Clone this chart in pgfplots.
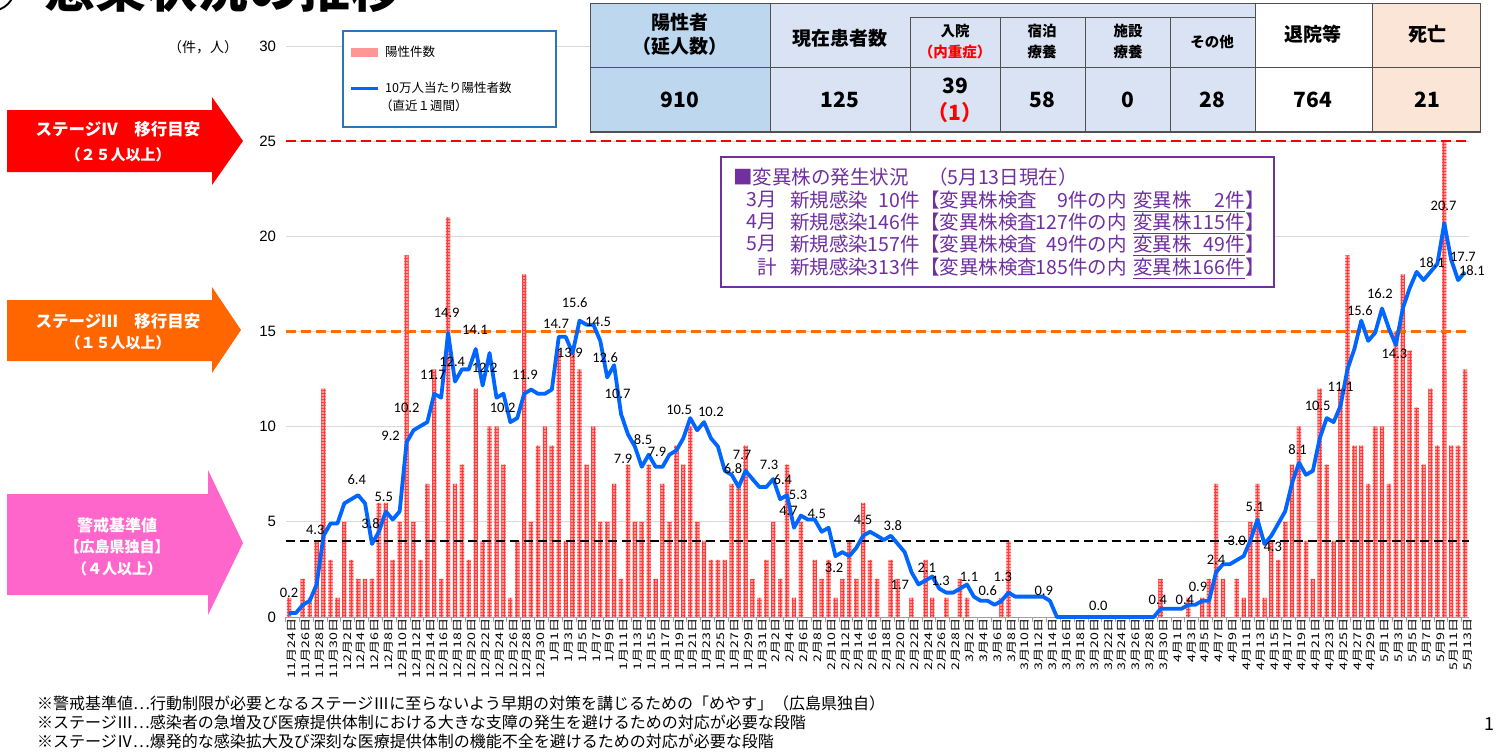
\documentclass[border=0pt]{standalone}
\usepackage{pgfplots}
\pgfplotsset{compat=1.18}
\usepackage{pgfplotstable}
\usepackage{fontspec}
\usetikzlibrary{patterns}
\setmainfont{Noto Sans CJK JP}
\newfontfamily\labf{Carlito}
\newfontfamily\numf{Liberation Sans}
\newfontfamily\xtf[FakeStretch=1.35]{Noto Sans CJK JP}
\newcommand\fs[1]{\fontsize{#1}{#1}\selectfont}
\definecolor{barfill}{RGB}{255,150,150}
\definecolor{barline}{RGB}{255,60,60}
\definecolor{lineblue}{RGB}{0,102,255}
\definecolor{dorange}{RGB}{255,110,0}
\definecolor{gridgray}{RGB}{217,217,217}
\definecolor{axgray}{RGB}{160,160,160}
\definecolor{legblue}{RGB}{46,117,182}
\definecolor{arrred}{RGB}{255,0,0}
\definecolor{arrorange}{RGB}{255,102,0}
\definecolor{arrpink}{RGB}{255,102,204}
\definecolor{vpurple}{RGB}{112,48,160}
\definecolor{tblue}{RGB}{189,215,238}
\definecolor{tlblue}{RGB}{218,227,243}
\definecolor{tpeach}{RGB}{251,229,214}
\definecolor{tborder}{RGB}{80,80,80}

\pgfplotstableread{
d c r
0 1 0.21
1 0 0.21
2 2 0.64
3 1 0.85
4 4 1.71
5 12 4.27
6 3 4.91
7 1 4.91
8 5 5.97
9 3 6.19
10 2 6.40
11 2 5.97
12 2 3.84
13 6 4.48
14 6 5.55
15 3 5.12
16 5 5.55
17 19 9.17
18 5 9.81
19 3 10.03
20 7 10.24
21 13 11.73
22 2 11.52
23 21 14.93
24 7 12.37
25 8 13.01
26 3 13.01
27 12 14.08
28 4 12.16
29 10 13.87
30 10 11.52
31 8 11.73
32 1 10.24
33 4 10.45
34 18 11.73
35 5 11.95
36 9 11.73
37 10 11.73
38 9 11.95
39 14 14.72
40 4 14.72
41 14 13.87
42 13 15.57
43 8 15.36
44 10 15.36
45 5 14.51
46 5 12.59
47 7 13.23
48 2 10.67
49 8 9.60
50 5 8.96
51 5 7.89
52 8 8.53
53 2 7.89
54 7 7.89
55 5 8.53
56 9 8.75
57 8 9.39
58 10 10.45
59 5 9.81
60 4 10.24
61 3 9.39
62 3 8.96
63 3 7.68
64 7 7.47
65 7 6.83
66 9 7.68
67 2 7.25
68 1 6.83
69 3 6.83
70 5 7.25
71 2 6.19
72 8 6.40
73 1 4.69
74 5 5.33
75 0 5.12
76 3 5.12
77 2 4.48
78 3 4.69
79 1 3.20
80 2 3.41
81 4 3.20
82 2 3.63
83 6 4.27
84 3 4.48
85 2 4.27
86 0 4.05
87 3 4.27
88 2 3.84
89 0 3.41
90 1 2.35
91 0 1.71
92 3 1.92
93 1 2.13
94 0 1.49
95 1 1.28
96 0 1.28
97 2 1.49
98 1 1.71
99 0 1.07
100 0 0.85
101 0 0.85
102 0 0.64
103 1 0.85
104 4 1.28
105 0 1.07
106 0 1.07
107 0 1.07
108 0 1.07
109 0 1.07
110 0 0.85
111 0 0
112 0 0
113 0 0
114 0 0
115 0 0
116 0 0
117 0 0
118 0 0
119 0 0
120 0 0
121 0 0
122 0 0
123 0 0
124 0 0
125 0 0
126 2 0.43
127 0 0.43
128 0 0.43
129 0 0.43
130 1 0.64
131 0 0.64
132 1 0.85
133 2 0.85
134 7 2.35
135 2 2.77
136 0 2.77
137 2 2.99
138 1 3.20
139 5 4.05
140 7 5.12
141 1 3.84
142 4 4.27
143 3 4.91
144 5 5.55
145 8 7.04
146 10 8.11
147 4 7.47
148 2 7.68
149 12 9.39
150 8 10.45
151 4 10.24
152 12 11.09
153 19 13.01
154 9 14.08
155 9 15.57
156 7 14.51
157 10 14.93
158 10 16.21
159 7 15.15
160 15 14.29
161 18 16.21
162 14 17.28
163 11 18.13
164 8 17.70
165 12 18.13
166 9 18.56
167 25 20.69
168 9 18.77
169 9 17.70
170 13 18.13
}\data

\newcommand\dl[3]{\node[font=\labf\fs{14.5},inner sep=0pt] at (axis cs:#1,#2) {#3};}

\begin{document}
\begin{tikzpicture}
\path[use as bounding box, clip] (0pt,0pt) rectangle (1498pt,-753pt);
\fill[white] (0pt,0pt) rectangle (1498pt,-753pt);
\begin{axis}[
  at={(285.5pt,-617pt)}, anchor=south west,
  scale only axis, width=1183pt, height=571pt,
  xmin=-0.5, xmax=170.5, ymin=0, ymax=30,
  clip=false,
  axis x line*=bottom, axis y line*=left,
  y axis line style={draw=none},
  x axis line style={draw=axgray, line width=1pt},
  xtick={0,2,...,170},
  xticklabels={11月24日,11月26日,11月28日,11月30日,12月2日,12月4日,12月6日,12月8日,12月10日,12月12日,12月14日,12月16日,12月18日,12月20日,12月22日,12月24日,12月26日,12月28日,12月30日,1月1日,1月3日,1月5日,1月7日,1月9日,1月11日,1月13日,1月15日,1月17日,1月19日,1月21日,1月23日,1月25日,1月27日,1月29日,1月31日,2月2日,2月4日,2月6日,2月8日,2月10日,2月12日,2月14日,2月16日,2月18日,2月20日,2月22日,2月24日,2月26日,2月28日,3月2日,3月4日,3月6日,3月8日,3月10日,3月12日,3月14日,3月16日,3月18日,3月20日,3月22日,3月24日,3月26日,3月28日,3月30日,4月1日,4月3日,4月5日,4月7日,4月9日,4月11日,4月13日,4月15日,4月17日,4月19日,4月21日,4月23日,4月25日,4月27日,4月29日,5月1日,5月3日,5月5日,5月7日,5月9日,5月11日,5月13日},
  minor xtick={-0.5,1.5,...,169.5},
  major tick length=0pt, minor tick length=5pt,
  tick align=outside,
  minor x tick style={draw=axgray, line width=0.8pt},
  ytick={0,5,...,30},
  ytick style={draw=none},
  ymajorgrids, major grid style={draw=gridgray, line width=1pt},
  xticklabel style={rotate=90, anchor=east, font=\xtf\fs{10.5}, inner sep=1pt, yshift=-3pt},
  yticklabel style={font=\numf\fs{15}, xshift=-6pt},
  /pgf/number format/assume math mode=true,
]
\addplot[ybar, bar width=4.3pt, draw=none, fill=barfill, postaction={pattern=grid, pattern color=barline}] table[x=d,y=c] {\data};
\addplot[arrred, line width=2.5pt, dash pattern=on 10pt off 5pt] coordinates {(-0.5,25) (170.5,25)};
\addplot[dorange, line width=2.5pt, dash pattern=on 10pt off 5pt] coordinates {(-0.5,15) (170.5,15)};
\addplot[black, line width=2pt, dash pattern=on 9pt off 5pt] coordinates {(-0.5,4) (170.5,4)};
\addplot[lineblue, line width=3.8pt, line join=round, mark=none] table[x=d,y=r] {\data};
\dl{0}{1.26}{0.2}
\dl{3.8}{4.6}{4.3}
\dl{9.8}{7.2}{6.4}
\dl{11.8}{4.9}{3.8}
\dl{13.7}{6.3}{5.5}
\dl{14.7}{9.5}{9.2}
\dl{17}{11.0}{10.2}
\dl{20.8}{12.7}{11.7}
\dl{22.8}{16.0}{14.9}
\dl{23.6}{13.4}{12.4}
\dl{26.9}{15.1}{14.1}
\dl{28.3}{13.1}{12.2}
\dl{30.9}{11.0}{10.2}
\dl{34.1}{12.7}{11.9}
\dl{38.6}{15.4}{14.7}
\dl{40.6}{13.9}{13.9}
\dl{41.3}{16.5}{15.6}
\dl{44.7}{15.5}{14.5}
\dl{45.7}{13.6}{12.6}
\dl{47.5}{11.7}{10.7}
\dl{48.3}{8.3}{7.9}
\dl{51.2}{9.3}{8.5}
\dl{53.2}{8.7}{7.9}
\dl{56.4}{10.9}{10.5}
\dl{61}{10.8}{10.2}
\dl{64.2}{7.8}{6.8}
\dl{65.5}{8.5}{7.7}
\dl{69.4}{8.0}{7.3}
\dl{71.4}{7.2}{6.4}
\dl{72.2}{5.6}{4.7}
\dl{73.6}{6.4}{5.3}
\dl{76.3}{5.4}{4.5}
\dl{78.8}{2.6}{3.2}
\dl{83}{5.1}{4.5}
\dl{87.3}{4.8}{3.8}
\dl{88.3}{1.7}{1.7}
\dl{92.2}{2.6}{2.1}
\dl{94.2}{1.9}{1.3}
\dl{98.3}{2.1}{1.1}
\dl{101}{1.4}{0.6}
\dl{103.2}{2.1}{1.3}
\dl{109.1}{1.4}{0.9}
\dl{117}{0.6}{0.0}
\dl{125.6}{0.9}{0.4}
\dl{129.5}{0.9}{0.4}
\dl{131.4}{1.6}{0.9}
\dl{134}{3.0}{2.4}
\dl{137}{4.0}{3.0}
\dl{139.6}{5.8}{5.1}
\dl{142.2}{3.7}{4.3}
\dl{145.8}{8.8}{8.1}
\dl{148.7}{11.1}{10.5}
\dl{152}{12.1}{11.1}
\dl{154.8}{16.1}{15.6}
\dl{157.7}{17.0}{16.2}
\dl{159.8}{13.8}{14.3}
\dl{165.2}{18.6}{18.1}
\dl{166.9}{21.6}{20.7}
\dl{169.7}{18.9}{17.7}
\dl{171.0}{18.2}{18.1}
\end{axis}

\begin{scope}[x=1pt,y=-1pt]
% title (cut at top)
\node[anchor=base west, inner sep=0pt, font=\bfseries\fs{51}] at (44,7) {感染状況の推移};
\node[anchor=base east, inner sep=0pt, font=\bfseries\fs{51}] at (18,7) {①};
% unit
\node[font=\fs{14}] at (203,47) {（件，人）};
% arrows
\fill[arrred] (7,110) -- (212,110) -- (212,97) -- (243,141) -- (212,185) -- (212,172) -- (7,172) -- cycle;
\node[white, font=\bfseries\fs{16.5}] at (118,129) {ステージⅣ　移行目安};
\node[white, font=\bfseries\fs{15}] at (118,155) {（２５人以上）};
\fill[arrorange] (7,300) -- (212,300) -- (212,287) -- (241,330) -- (212,373) -- (212,361) -- (7,361) -- cycle;
\node[white, font=\bfseries\fs{16.5}] at (118,321) {ステージⅢ　移行目安};
\node[white, font=\bfseries\fs{15}] at (118,343) {（１５人以上）};
\fill[arrpink] (7,494) -- (208,494) -- (208,470) -- (243,543) -- (208,615) -- (208,595) -- (7,595) -- cycle;
\node[white, font=\bfseries\fs{16}] at (117,525) {警戒基準値};
\node[white, font=\bfseries\fs{15}] at (117,547) {【広島県独自】};
\node[white, font=\bfseries\fs{15}] at (117,569) {（４人以上）};
% legend
\draw[legblue, line width=1.3pt, fill=white] (343,31) rectangle (556,127);
\fill[barfill] (351,48) rectangle (378,57);
\node[anchor=west, inner sep=0pt, font=\fs{12.5}] at (385,52) {陽性件数};
\draw[lineblue, line width=3pt] (351,88) -- (378,88);
\node[anchor=west, inner sep=0pt, font=\fs{12.5}] at (385,88) {10万人当たり陽性者数};
\node[anchor=west, inner sep=0pt, font=\fs{12.5}] at (380,106) {（直近１週間）};
% table
\fill[tblue] (590,3) rectangle (770,132);
\fill[tlblue] (770,3) rectangle (1255,132);
\fill[white] (1255,3) rectangle (1372,132);
\fill[tpeach] (1372,3) rectangle (1480,132);
\draw[tborder, line width=0.9pt] (590,3) rectangle (1480,132);
\draw[tborder, line width=0.9pt] (770,3) -- (770,132) (1255,3) -- (1255,132) (1372,3) -- (1372,132)
  (910,17) -- (910,132) (1000,17) -- (1000,132) (1085,17) -- (1085,132) (1170,17) -- (1170,132)
  (590,67) -- (1480,67) (910,17) -- (1255,17);
\draw[tborder, line width=1.8pt] (590,132) -- (1480,132);
\node[font=\bfseries\fs{19}] at (680,22) {陽性者};
\node[font=\bfseries\fs{19}] at (680,46) {（延人数）};
\node[font=\bfseries\fs{19}] at (840,38) {現在患者数};
\node[font=\bfseries\fs{14.5}] at (955,31) {入院};
\node[font=\bfseries\fs{14.5}, text=red] at (955,52) {（内重症）};
\node[font=\bfseries\fs{14.5}] at (1042,31) {宿泊};
\node[font=\bfseries\fs{14.5}] at (1042,52) {療養};
\node[font=\bfseries\fs{14.5}] at (1128,31) {施設};
\node[font=\bfseries\fs{14.5}] at (1128,52) {療養};
\node[font=\bfseries\fs{14.5}] at (1212,42) {その他};
\node[font=\bfseries\fs{19}] at (1313,34) {退院等};
\node[font=\bfseries\fs{19}] at (1427,34) {死亡};
\node[font=\bfseries\fs{21}] at (680,100) {910};
\node[font=\bfseries\fs{21}] at (840,100) {125};
\node[font=\bfseries\fs{21}] at (955,86) {39};
\node[font=\bfseries\fs{21}, text=red] at (955,113) {（1）};
\node[font=\bfseries\fs{21}] at (1042,100) {58};
\node[font=\bfseries\fs{21}] at (1128,100) {0};
\node[font=\bfseries\fs{21}] at (1212,100) {28};
\node[font=\bfseries\fs{21}] at (1313,100) {764};
\node[font=\bfseries\fs{21}] at (1427,100) {21};
% variant box
\draw[vpurple, line width=1.8pt, fill=white] (721,157) rectangle (1274,287);
\begin{scope}[every node/.style={inner sep=0pt, text=vpurple, font=\fs{19.5}}]
\node[anchor=west] at (733,177) {■変異株の発生状況　（5月13日現在）};
\foreach \yy/\mo/\na/\nb/\nc in {200/3月/10件/9件の内/2件, 222/4月/146件/127件の内/115件, 244/5月/157件/49件の内/49件, 267/計/313件/185件の内/166件}{
  \node[anchor=east] at (777,\yy) {\mo};
  \node[anchor=west] at (790,\yy) {新規感染};
  \node[anchor=east] at (920,\yy) {\na};
  \node[anchor=west] at (920,\yy) {【変異株検査};
  \node[anchor=east] at (1127,\yy) {\nb};
  \node[anchor=west] at (1133,\yy) {変異株};
  \node[anchor=east] at (1245,\yy) {\nc};
  \node[anchor=west] at (1245,\yy) {】};
  \draw[vpurple, line width=0.9pt] (1133,\yy+11) -- (1245,\yy+11);
}
\end{scope}
% footnotes
\node[anchor=west, inner sep=0pt, font=\fs{16}] at (37,703) {※警戒基準値…行動制限が必要となるステージⅢに至らないよう早期の対策を講じるための「めやす」（広島県独自）};
\node[anchor=west, inner sep=0pt, font=\fs{16}] at (37,722) {※ステージⅢ…感染者の急増及び医療提供体制における大きな支障の発生を避けるための対応が必要な段階};
\node[anchor=west, inner sep=0pt, font=\fs{16}] at (37,741) {※ステージⅣ…爆発的な感染拡大及び深刻な医療提供体制の機能不全を避けるための対応が必要な段階};
\node[font=\fs{18}] at (1489,724) {1};
\end{scope}
\end{tikzpicture}
\end{document}
